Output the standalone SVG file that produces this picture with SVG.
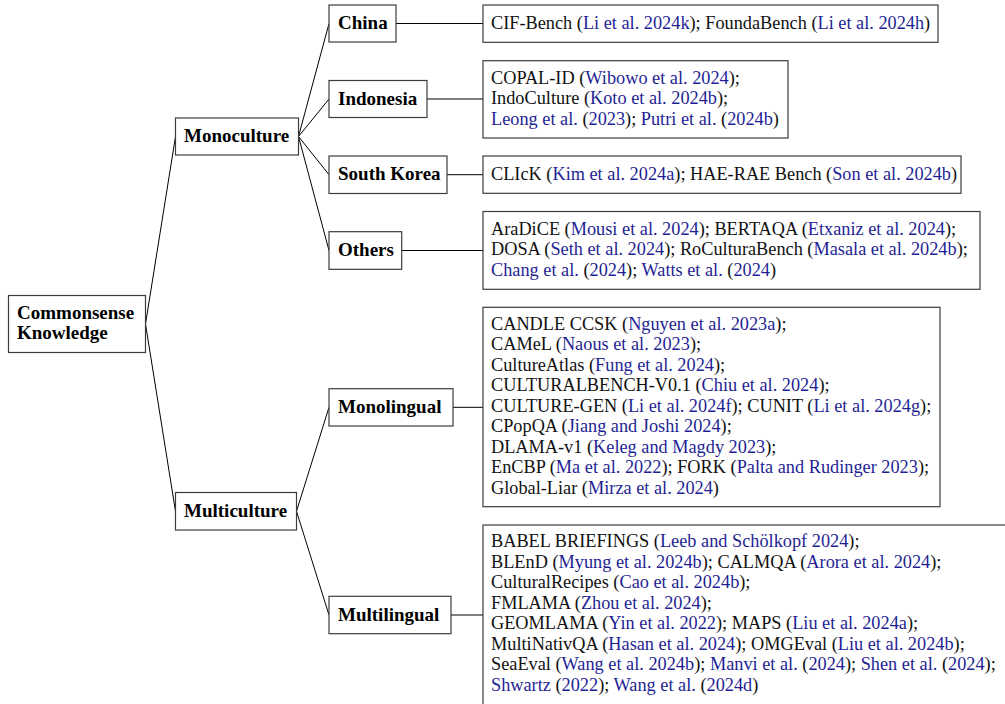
<svg xmlns="http://www.w3.org/2000/svg" width="1005" height="704" viewBox="0 0 1005 704">
<style>
.bg{fill:#fff}
.box{fill:#fff;stroke:#3c3c3c;stroke-width:1.2}
.lbl{font-family:"Liberation Serif","Times New Roman",serif;font-weight:bold;font-size:19px;fill:#000}
.t{font-family:"Liberation Serif","Times New Roman",serif;font-size:18.3px;fill:#111}
.c{fill:#1f1f94}
.edge{stroke:#000;stroke-width:1;fill:none}
</style>
<rect class="bg" x="0" y="0" width="1005" height="704"/>
<g id="connectors">
<path class="edge" d="M145.5 324 L175.5 136.5 M145.5 324 L175.5 511.3"/>
<path class="edge" d="M298.5 136.5 L329 23.5 M298.5 136.5 L329 99 M298.5 136.5 L329 174.7 M298.5 136.5 L329 250.5"/>
<path class="edge" d="M296.5 511.3 L329 407.3 M296.5 511.3 L329 615"/>
<path class="edge" d="M396 23.5 H483 M427 99 H483 M447 174.7 H483 M401.7 250.5 H483 M453 407.3 H483 M451 615 H483"/>
</g>
<g id="node-commonsense">
<rect class="box" x="8.5" y="295.5" width="137" height="57"/>
<text class="lbl" x="17" y="318.5">Commonsense</text>
<text class="lbl" x="17" y="338.5">Knowledge</text>
</g>
<g id="node-monoculture">
<rect class="box" x="175.5" y="118" width="123" height="37"/>
<text class="lbl" x="184" y="142">Monoculture</text>
</g>
<g id="node-multiculture">
<rect class="box" x="175.5" y="492.5" width="121" height="37.5"/>
<text class="lbl" x="184" y="517">Multiculture</text>
</g>
<g id="node-china">
<rect class="box" x="329" y="5" width="67" height="37"/>
<text class="lbl" x="338" y="29">China</text>
</g>
<g id="node-indonesia">
<rect class="box" x="329" y="80.5" width="98" height="37"/>
<text class="lbl" x="338" y="104.5">Indonesia</text>
</g>
<g id="node-southkorea">
<rect class="box" x="329" y="156" width="118" height="37.5"/>
<text class="lbl" x="338" y="180">South Korea</text>
</g>
<g id="node-others">
<rect class="box" x="329" y="231.7" width="72.7" height="37.6"/>
<text class="lbl" x="338" y="256">Others</text>
</g>
<g id="node-monolingual">
<rect class="box" x="329" y="388.7" width="124" height="37.3"/>
<text class="lbl" x="338" y="413">Monolingual</text>
</g>
<g id="node-multilingual">
<rect class="box" x="329" y="596.3" width="122" height="37.4"/>
<text class="lbl" x="338" y="620.5">Multilingual</text>
</g>
<g id="leaf-china">
<rect class="box" x="483" y="5" width="455" height="37.3"/>
<text class="t" x="491" y="28.7">CIF-Bench (<tspan class="c">Li et al. 2024k</tspan>); FoundaBench (<tspan class="c">Li et al. 2024h</tspan>)</text>
</g>
<g id="leaf-indonesia">
<rect class="box" x="483" y="60.7" width="305" height="77.3"/>
<text class="t" x="491" y="83.6">COPAL-ID (<tspan class="c">Wibowo et al. 2024</tspan>);</text>
<text class="t" x="491" y="104.1">IndoCulture (<tspan class="c">Koto et al. 2024b</tspan>);</text>
<text class="t" x="491" y="124.6"><tspan class="c">Leong et al.</tspan> (<tspan class="c">2023</tspan>); <tspan class="c">Putri et al.</tspan> (<tspan class="c">2024b</tspan>)</text>
</g>
<g id="leaf-southkorea">
<rect class="box" x="483" y="156" width="478" height="37.3"/>
<text class="t" x="491" y="179.7">CLIcK (<tspan class="c">Kim et al. 2024a</tspan>); HAE-RAE Bench (<tspan class="c">Son et al. 2024b</tspan>)</text>
</g>
<g id="leaf-others">
<rect class="box" x="483" y="211.5" width="497" height="77.8"/>
<text class="t" x="491" y="234.7">AraDiCE (<tspan class="c">Mousi et al. 2024</tspan>); BERTAQA (<tspan class="c">Etxaniz et al. 2024</tspan>);</text>
<text class="t" x="491" y="255.2">DOSA (<tspan class="c">Seth et al. 2024</tspan>); RoCulturaBench (<tspan class="c">Masala et al. 2024b</tspan>);</text>
<text class="t" x="491" y="275.7"><tspan class="c">Chang et al.</tspan> (<tspan class="c">2024</tspan>); <tspan class="c">Watts et al.</tspan> (<tspan class="c">2024</tspan>)</text>
</g>
<g id="leaf-monolingual">
<rect class="box" x="483" y="307.3" width="457" height="199.4"/>
<text class="t" x="491" y="329.8">CANDLE CCSK (<tspan class="c">Nguyen et al. 2023a</tspan>);</text>
<text class="t" x="491" y="350.3">CAMeL (<tspan class="c">Naous et al. 2023</tspan>);</text>
<text class="t" x="491" y="370.8">CultureAtlas (<tspan class="c">Fung et al. 2024</tspan>);</text>
<text class="t" x="491" y="391.3">CULTURALBENCH-V0.1 (<tspan class="c">Chiu et al. 2024</tspan>);</text>
<text class="t" x="491" y="411.8">CULTURE-GEN (<tspan class="c">Li et al. 2024f</tspan>); CUNIT (<tspan class="c">Li et al. 2024g</tspan>);</text>
<text class="t" x="491" y="432.3">CPopQA (<tspan class="c">Jiang and Joshi 2024</tspan>);</text>
<text class="t" x="491" y="452.8">DLAMA-v1 (<tspan class="c">Keleg and Magdy 2023</tspan>);</text>
<text class="t" x="491" y="473.3">EnCBP (<tspan class="c">Ma et al. 2022</tspan>); FORK (<tspan class="c">Palta and Rudinger 2023</tspan>);</text>
<text class="t" x="491" y="493.8">Global-Liar (<tspan class="c">Mirza et al. 2024</tspan>)</text>
</g>
<g id="leaf-multilingual">
<rect class="box" x="483" y="525" width="540" height="190"/>
<text class="t" x="491" y="547.2">BABEL BRIEFINGS (<tspan class="c">Leeb and Schölkopf 2024</tspan>);</text>
<text class="t" x="491" y="567.7">BLEnD (<tspan class="c">Myung et al. 2024b</tspan>); CALMQA (<tspan class="c">Arora et al. 2024</tspan>);</text>
<text class="t" x="491" y="588.2">CulturalRecipes (<tspan class="c">Cao et al. 2024b</tspan>);</text>
<text class="t" x="491" y="608.7">FMLAMA (<tspan class="c">Zhou et al. 2024</tspan>);</text>
<text class="t" x="491" y="629.2">GEOMLAMA (<tspan class="c">Yin et al. 2022</tspan>); MAPS (<tspan class="c">Liu et al. 2024a</tspan>);</text>
<text class="t" x="491" y="649.7">MultiNativQA (<tspan class="c">Hasan et al. 2024</tspan>); OMGEval (<tspan class="c">Liu et al. 2024b</tspan>);</text>
<text class="t" x="491" y="670.2">SeaEval (<tspan class="c">Wang et al. 2024b</tspan>); <tspan class="c">Manvi et al.</tspan> (<tspan class="c">2024</tspan>); <tspan class="c">Shen et al.</tspan> (<tspan class="c">2024</tspan>);</text>
<text class="t" x="491" y="690.7"><tspan class="c">Shwartz</tspan> (<tspan class="c">2022</tspan>); <tspan class="c">Wang et al.</tspan> (<tspan class="c">2024d</tspan>)</text>
</g>
</svg>
